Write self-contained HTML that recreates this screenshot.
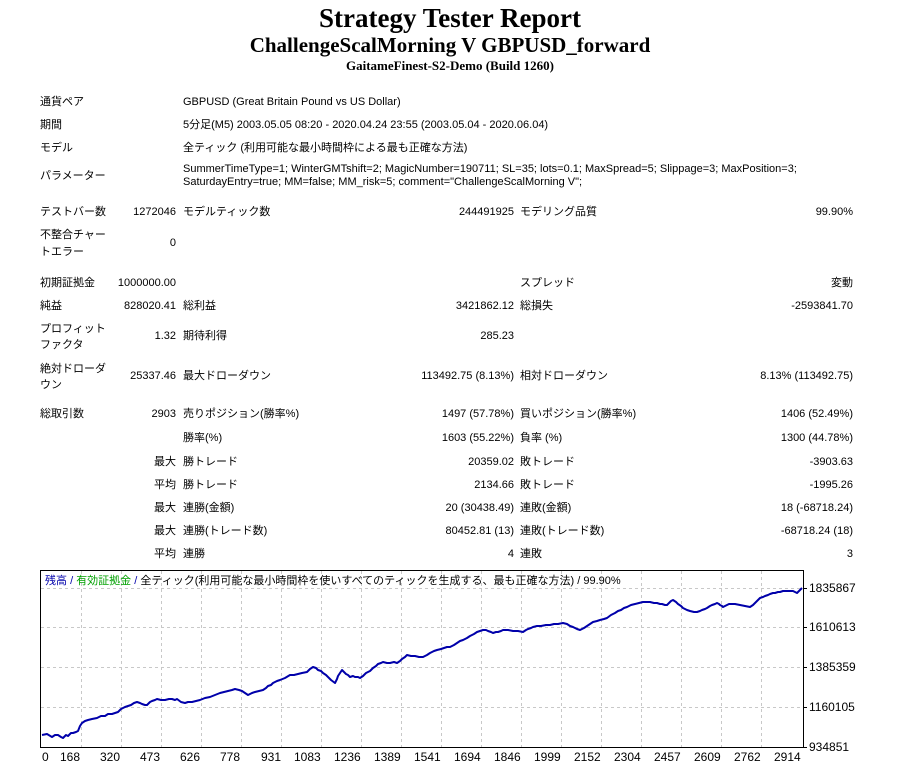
<!DOCTYPE html>
<html><head><meta charset="utf-8"><style>
body{margin:0;width:900px;height:765px;background:#fff;position:relative;overflow:hidden;font-family:"Liberation Sans","Noto Sans CJK JP",sans-serif;font-size:11px;color:#000}
.t{position:absolute;white-space:nowrap;line-height:14px}
.r{text-align:right}
.h{position:absolute;left:0;width:900px;text-align:center;font-family:"Liberation Serif","Noto Serif CJK SC",serif;font-weight:bold}
</style></head><body>
<div class="h" style="top:3px;font-size:27px">Strategy Tester Report</div>
<div class="h" style="top:33px;font-size:21px">ChallengeScalMorning V GBPUSD_forward</div>
<div class="h" style="top:58px;font-size:13px">GaitameFinest-S2-Demo (Build 1260)</div>

<div class="t" style="left:40px;top:95px">通貨ペア</div><div class="t" style="left:183px;top:95px">GBPUSD (Great Britain Pound vs US Dollar)</div>
<div class="t" style="left:40px;top:118px">期間</div><div class="t" style="left:183px;top:118px">5分足(M5) 2003.05.05 08:20 - 2020.04.24 23:55 (2003.05.04 - 2020.06.04)</div>
<div class="t" style="left:40px;top:141px">モデル</div><div class="t" style="left:183px;top:141px">全ティック (利用可能な最小時間枠による最も正確な方法)</div>
<div class="t" style="left:40px;top:169px">パラメーター</div><div class="t" style="left:183px;top:163px;line-height:13px">SummerTimeType=1; WinterGMTshift=2; MagicNumber=190711; SL=35; lots=0.1; MaxSpread=5; Slippage=3; MaxPosition=3;<br>SaturdayEntry=true; MM=false; MM_risk=5; comment="ChallengeScalMorning V";</div>

<div class="t" style="left:40px;top:205px">テストバー数</div><div class="t r" style="right:724px;top:205px">1272046</div><div class="t" style="left:183px;top:205px">モデルティック数</div><div class="t r" style="right:386px;top:205px">244491925</div><div class="t" style="left:520px;top:205px">モデリング品質</div><div class="t r" style="right:47px;top:205px">99.90%</div>
<div class="t" style="left:40px;top:227px;line-height:17px">不整合チャー<br>トエラー</div><div class="t r" style="right:724px;top:236px">0</div>

<div class="t" style="left:40px;top:276px">初期証拠金</div><div class="t r" style="right:724px;top:276px">1000000.00</div><div class="t" style="left:520px;top:276px">スプレッド</div><div class="t r" style="right:47px;top:276px">変動</div>
<div class="t" style="left:40px;top:299px">純益</div><div class="t r" style="right:724px;top:299px">828020.41</div><div class="t" style="left:183px;top:299px">総利益</div><div class="t r" style="right:386px;top:299px">3421862.12</div><div class="t" style="left:520px;top:299px">総損失</div><div class="t r" style="right:47px;top:299px">-2593841.70</div>
<div class="t" style="left:40px;top:321px;line-height:16px">プロフィット<br>ファクタ</div><div class="t r" style="right:724px;top:329px">1.32</div><div class="t" style="left:183px;top:329px">期待利得</div><div class="t r" style="right:386px;top:329px">285.23</div>
<div class="t" style="left:40px;top:361px;line-height:16px">絶対ドローダ<br>ウン</div><div class="t r" style="right:724px;top:369px">25337.46</div><div class="t" style="left:183px;top:369px">最大ドローダウン</div><div class="t r" style="right:386px;top:369px">113492.75 (8.13%)</div><div class="t" style="left:520px;top:369px">相対ドローダウン</div><div class="t r" style="right:47px;top:369px">8.13% (113492.75)</div>
<div class="t" style="left:40px;top:407px">総取引数</div><div class="t r" style="right:724px;top:407px">2903</div><div class="t" style="left:183px;top:407px">売りポジション(勝率%)</div><div class="t r" style="right:386px;top:407px">1497 (57.78%)</div><div class="t" style="left:520px;top:407px">買いポジション(勝率%)</div><div class="t r" style="right:47px;top:407px">1406 (52.49%)</div>
<div class="t" style="left:183px;top:431px">勝率(%)</div><div class="t r" style="right:386px;top:431px">1603 (55.22%)</div><div class="t" style="left:520px;top:431px">負率 (%)</div><div class="t r" style="right:47px;top:431px">1300 (44.78%)</div>
<div class="t r" style="right:724px;top:455px">最大</div><div class="t" style="left:183px;top:455px">勝トレード</div><div class="t r" style="right:386px;top:455px">20359.02</div><div class="t" style="left:520px;top:455px">敗トレード</div><div class="t r" style="right:47px;top:455px">-3903.63</div>
<div class="t r" style="right:724px;top:478px">平均</div><div class="t" style="left:183px;top:478px">勝トレード</div><div class="t r" style="right:386px;top:478px">2134.66</div><div class="t" style="left:520px;top:478px">敗トレード</div><div class="t r" style="right:47px;top:478px">-1995.26</div>
<div class="t r" style="right:724px;top:501px">最大</div><div class="t" style="left:183px;top:501px">連勝(金額)</div><div class="t r" style="right:386px;top:501px">20 (30438.49)</div><div class="t" style="left:520px;top:501px">連敗(金額)</div><div class="t r" style="right:47px;top:501px">18 (-68718.24)</div>
<div class="t r" style="right:724px;top:524px">最大</div><div class="t" style="left:183px;top:524px">連勝(トレード数)</div><div class="t r" style="right:386px;top:524px">80452.81 (13)</div><div class="t" style="left:520px;top:524px">連敗(トレード数)</div><div class="t r" style="right:47px;top:524px">-68718.24 (18)</div>
<div class="t r" style="right:724px;top:547px">平均</div><div class="t" style="left:183px;top:547px">連勝</div><div class="t r" style="right:386px;top:547px">4</div><div class="t" style="left:520px;top:547px">連敗</div><div class="t r" style="right:47px;top:547px">3</div>

<svg style="position:absolute;left:0;top:0" width="900" height="765">
<g stroke="#c8c8c8" stroke-dasharray="3,3" stroke-width="1">
<line x1="41" y1="588.5" x2="803" y2="588.5"/><line x1="41" y1="627.5" x2="803" y2="627.5"/><line x1="41" y1="667.5" x2="803" y2="667.5"/><line x1="41" y1="707.5" x2="803" y2="707.5"/>
<line x1="81.5" y1="571" x2="81.5" y2="747"/><line x1="121.5" y1="571" x2="121.5" y2="747"/><line x1="161.5" y1="571" x2="161.5" y2="747"/><line x1="201.5" y1="571" x2="201.5" y2="747"/><line x1="241.5" y1="571" x2="241.5" y2="747"/><line x1="281.5" y1="571" x2="281.5" y2="747"/><line x1="321.5" y1="571" x2="321.5" y2="747"/><line x1="361.5" y1="571" x2="361.5" y2="747"/><line x1="401.5" y1="571" x2="401.5" y2="747"/><line x1="441.5" y1="571" x2="441.5" y2="747"/><line x1="481.5" y1="571" x2="481.5" y2="747"/><line x1="521.5" y1="571" x2="521.5" y2="747"/><line x1="561.5" y1="571" x2="561.5" y2="747"/><line x1="601.5" y1="571" x2="601.5" y2="747"/><line x1="641.5" y1="571" x2="641.5" y2="747"/><line x1="681.5" y1="571" x2="681.5" y2="747"/><line x1="721.5" y1="571" x2="721.5" y2="747"/><line x1="761.5" y1="571" x2="761.5" y2="747"/>
</g>
<rect x="40.5" y="570.5" width="763" height="177" fill="none" stroke="#000"/>
<g stroke="#000"><line x1="803" y1="588.5" x2="807" y2="588.5"/><line x1="803" y1="627.5" x2="807" y2="627.5"/><line x1="803" y1="667.5" x2="807" y2="667.5"/><line x1="803" y1="707.5" x2="807" y2="707.5"/><line x1="803" y1="747.5" x2="807" y2="747.5"/></g>
<polyline fill="none" stroke="#0000aa" stroke-width="2" stroke-linejoin="round" points="42,735 47,734 52,737 55,735 58,735 61,737 63,738 66,735 68,736 71,733 73,733 76,732 78,731 80,726 82,723 85,721 88,720 92,719 97,718 101,716 105,716 108,714 112,714 115,713 118,712 121,709 125,707 128,706 131,705 134,703 137,702 140,703 142,704 145,705 147,705 150,702 152,701 155,700 157,699 161,700 165,700 169,699 172,699 175,700 177,699 181,702 185,703 188,702 192,702 196,701 200,700 205,698 210,697 215,695 220,693 224,692 228,691 232,690 235,689 239,690 242,691 245,693 248,695 252,693 255,692 259,691 263,690 266,688 268,686 271,685 273,683 277,681 280,680 285,678 290,675 294,675 298,674 302,673 307,672 310,669 313,667 316,668 318,670 321,671 323,673 326,675 328,677 331,680 335,683 337,679 338,676 340,673 342,670 344,672 346,674 348,675 350,677 353,676 355,677 358,677 360,678 363,676 366,673 370,671 373,668 376,666 378,664 381,663 383,662 387,663 390,663 394,662 397,663 400,661 402,659 405,657 407,655 411,656 415,656 419,657 423,657 427,655 430,653 434,651 437,650 441,649 444,648 447,647 450,647 454,645 457,643 460,641 463,640 467,638 470,636 474,634 477,632 480,631 483,630 486,630 488,631 491,632 493,633 496,632 498,632 501,631 503,630 508,630 513,631 518,631 523,632 526,630 528,629 531,628 533,627 537,626 541,626 546,625 550,625 554,624 558,624 563,623 567,624 570,626 573,627 577,629 580,630 584,628 587,626 590,624 593,622 597,621 600,620 604,619 607,618 611,615 615,613 618,611 621,610 624,608 627,607 631,605 635,604 639,603 643,602 647,602 650,602 654,603 657,603 660,604 662,604 665,605 667,605 669,603 671,601 673,600 676,602 678,604 681,606 683,608 687,610 690,611 694,612 697,612 700,611 702,610 705,609 707,608 710,606 712,605 715,604 717,603 719,604 720,605 722,606 723,607 725,606 727,605 729,604 730,604 735,604 740,605 745,606 750,607 753,605 755,603 758,600 760,598 763,597 765,596 768,595 770,594 773,593 775,593 778,592 780,592 783,591 786,591 790,591 793,591 795,592 797,593 799,591 800,590 802,588"/>
</svg>
<div class="t" style="left:45px;top:574px;font-size:11px;line-height:15px"><span style="color:#0000aa">残高</span> <span style="color:#0000aa">/</span> <span style="color:#00a000">有効証拠金</span> <span style="color:#0000aa">/</span> 全ティック(利用可能な最小時間枠を使いすべてのティックを生成する、最も正確な方法) / 99.90%</div>
<div class="t" style="left:809px;top:581px;font-size:12px">1835867</div>
<div class="t" style="left:809px;top:620px;font-size:12px">1610613</div>
<div class="t" style="left:809px;top:660px;font-size:12px">1385359</div>
<div class="t" style="left:809px;top:700px;font-size:12px">1160105</div>
<div class="t" style="left:809px;top:740px;font-size:12px">934851</div>
<div style="position:absolute;top:750px;left:0;font-size:12px;line-height:14px">
<span class="t" style="left:42px">0</span><span class="t" style="left:60px">168</span><span class="t" style="left:100px">320</span><span class="t" style="left:140px">473</span><span class="t" style="left:180px">626</span><span class="t" style="left:220px">778</span><span class="t" style="left:261px">931</span><span class="t" style="left:294px">1083</span><span class="t" style="left:334px">1236</span><span class="t" style="left:374px">1389</span><span class="t" style="left:414px">1541</span><span class="t" style="left:454px">1694</span><span class="t" style="left:494px">1846</span><span class="t" style="left:534px">1999</span><span class="t" style="left:574px">2152</span><span class="t" style="left:614px">2304</span><span class="t" style="left:654px">2457</span><span class="t" style="left:694px">2609</span><span class="t" style="left:734px">2762</span><span class="t" style="left:774px">2914</span>
</div>
</body></html>
